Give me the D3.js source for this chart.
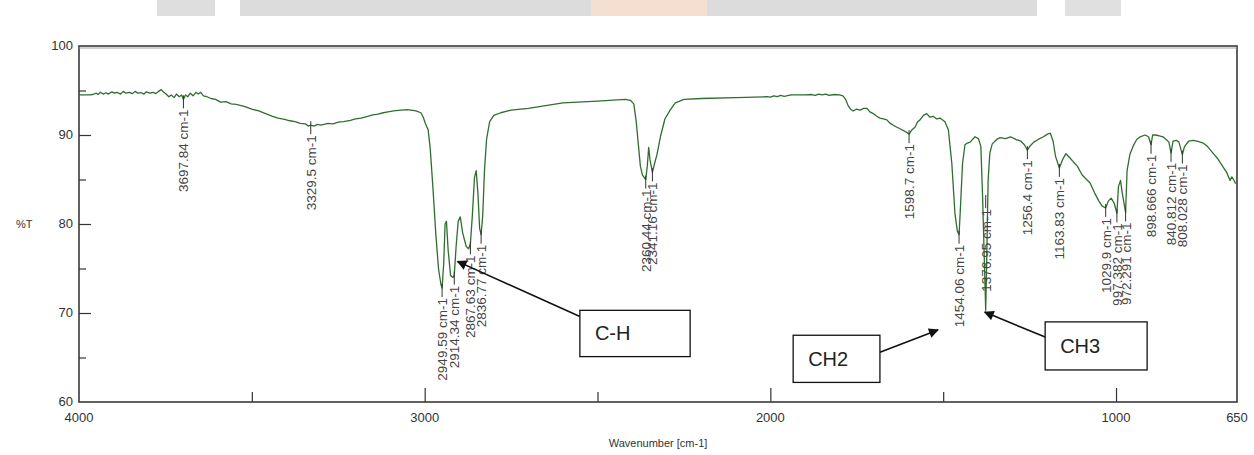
<!DOCTYPE html>
<html>
<head>
<meta charset="utf-8">
<script src="https://cdn.jsdelivr.net/npm/d3@7"></script>
<style>
  body { margin: 0; background: #fff; }
  svg { display: block; }
  text { font-family: "Liberation Sans", Arial, sans-serif; }
</style>
</head>
<body>
<div class="chart"></div>
<script>
"use strict";

// IR spectrum: [wavenumber cm-1, %T]
const spectrum = [
  [4000, 94.5], [3985, 94.5], [3970, 94.5], [3960, 94.55], [3950, 94.7], [3945, 94.55],
  [3938, 94.8], [3930, 94.6], [3922, 94.75], [3915, 94.6], [3905, 94.85], [3898, 94.7],
  [3890, 94.8], [3880, 94.6], [3872, 94.9], [3865, 94.7], [3855, 94.8], [3845, 94.65],
  [3838, 94.9], [3830, 94.7], [3820, 94.75], [3812, 94.6], [3805, 94.85], [3795, 94.7],
  [3785, 94.8], [3778, 94.65], [3770, 94.9], [3762, 95.1], [3755, 94.8], [3748, 94.6],
  [3740, 94.3], [3733, 94.5], [3725, 94.2], [3718, 94.6], [3710, 94.3], [3703, 94.5],
  [3697.84, 94.0], [3692, 94.5], [3685, 94.3], [3678, 94.7], [3670, 94.4], [3662, 94.8],
  [3655, 94.6], [3648, 94.8], [3640, 94.4], [3630, 94.3], [3618, 94.1], [3605, 94.0],
  [3590, 93.7], [3575, 93.75], [3560, 93.5], [3545, 93.45], [3520, 93.2], [3500, 92.9],
  [3480, 92.7], [3460, 92.4], [3440, 92.1], [3424, 91.9], [3405, 91.75], [3390, 91.6],
  [3375, 91.5], [3360, 91.3], [3345, 91.25], [3337, 91.0], [3329.5, 91.1], [3320, 91.0],
  [3310, 91.2], [3300, 91.1], [3280, 91.3], [3265, 91.25], [3250, 91.45], [3235, 91.5],
  [3215, 91.65], [3200, 91.8], [3184, 91.9], [3165, 92.1], [3150, 92.25], [3135, 92.35],
  [3120, 92.5], [3106, 92.6], [3090, 92.7], [3068, 92.8], [3050, 92.85], [3040, 92.8],
  [3025, 92.7], [3011, 92.5], [3004, 92.0], [2998, 91.3], [2990, 90.6], [2984, 88.5],
  [2976, 84], [2968, 79], [2960, 75], [2953, 73.2], [2949.59, 72.8], [2945, 75.5],
  [2941, 80.0], [2937, 80.3], [2932, 77], [2925, 74.2], [2918, 74.0], [2914.34, 74.3],
  [2909, 77.5], [2903, 80.3], [2897, 80.8], [2890, 79], [2880, 77.5], [2873, 77.2],
  [2867.63, 77.8], [2862, 81], [2856, 85.2], [2851, 86.0], [2846, 83.5], [2841, 79.5],
  [2836.77, 78.8], [2832, 81], [2827, 86], [2821, 89.5], [2812, 91.5], [2800, 92.2],
  [2780, 92.5], [2750, 92.8], [2700, 93.0], [2650, 93.3], [2600, 93.6], [2500, 93.8],
  [2420, 94.0], [2405, 93.9], [2395, 93.5], [2388, 91.5], [2382, 89], [2376, 86.5],
  [2370, 85.5], [2360.44, 85.0], [2356, 86.5], [2352, 88.6], [2348, 87.2], [2341.16, 85.8],
  [2335, 86.8], [2328, 87.8], [2318, 89.8], [2305, 91.8], [2290, 92.8], [2275, 93.6],
  [2250, 94.0], [2200, 94.1], [2100, 94.2], [2010, 94.3], [2000, 94.25], [1990, 94.4],
  [1980, 94.3], [1970, 94.45], [1960, 94.35], [1940, 94.5], [1900, 94.5], [1880, 94.55],
  [1870, 94.45], [1860, 94.6], [1850, 94.5], [1840, 94.6], [1830, 94.45], [1815, 94.55],
  [1800, 94.5], [1790, 94.4], [1782, 94.0], [1775, 93.3], [1768, 92.9], [1760, 92.7],
  [1752, 92.9], [1740, 92.8], [1730, 93.0], [1721, 93.0], [1712, 92.6], [1702, 92.4],
  [1692, 92.1], [1683, 91.9], [1673, 91.8], [1663, 91.7], [1653, 91.3], [1644, 91.1],
  [1635, 90.9], [1625, 90.7], [1615, 90.5], [1606, 90.3], [1598.7, 90.1], [1590, 90.6],
  [1581, 90.9], [1574, 91.5], [1567, 91.7], [1557, 92.2], [1548, 92.4], [1538, 92.0],
  [1529, 92.1], [1519, 91.8], [1509, 91.9], [1495, 91.5], [1485, 90.6], [1475, 86.8],
  [1466, 81.2], [1459, 79.2], [1454.06, 78.8], [1450, 81.9], [1444, 86.8], [1437, 88.9],
  [1430, 89.1], [1422, 89.2], [1408, 89.8], [1398, 89.6], [1391, 88.7], [1386, 83.1],
  [1381, 76], [1376.95, 70.3], [1374, 76], [1370, 84.9], [1365, 88.0], [1358, 89.0],
  [1345, 89.5], [1335, 89.7], [1320, 89.6], [1305, 89.8], [1290, 89.5], [1275, 89.3],
  [1265, 88.9], [1256.4, 88.3], [1248, 88.8], [1238, 89.2], [1225, 89.5], [1210, 89.8],
  [1198, 90.1], [1190, 90.2], [1182, 89.3], [1175, 87.6], [1163.83, 86.3], [1155, 87.2],
  [1145, 87.9], [1135, 87.5], [1124, 87.0], [1112, 86.5], [1098, 85.5], [1085, 85.0],
  [1075, 84.6], [1062, 83.5], [1050, 82.6], [1040, 82.0], [1029.9, 81.8], [1022, 82.6],
  [1014, 82.9], [1005, 82.3], [997.382, 81.2], [993, 84.2], [987, 84.9], [982, 83.5],
  [972.291, 81.3], [968, 86.0], [960, 87.8], [950, 88.8], [940, 89.5], [930, 89.8],
  [916, 90.0], [906, 89.8], [898.666, 88.9], [894, 90.0], [885, 90.0], [875, 89.9],
  [864, 89.8], [855, 89.5], [847, 89.2], [840.812, 88.0], [835, 89.3], [825, 89.4],
  [818, 89.2], [808.028, 87.8], [802, 88.7], [790, 89.3], [777, 89.4], [765, 89.3],
  [748, 89.1], [735, 88.7], [720, 88.0], [705, 87.3], [690, 86.4], [680, 85.8],
  [670, 84.9], [665, 85.3], [660, 85.0], [655, 84.6], [650, 84.6]
];

// Picked peaks: wavenumber and the %T where the peak mark sits
const peakWavenumbers = [3697.84, 3329.5, 2949.59, 2914.34, 2867.63, 2836.77, 2360.44, 2341.16,
  1598.7, 1454.06, 1376.95, 1256.4, 1163.83, 1029.9, 997.382, 972.291, 898.666, 840.812, 808.028];
const peakTransmittance = [94.0, 91.1, 72.8, 74.2, 77.6, 78.8, 85.0, 85.8,
  90.1, 78.8, 82.8, 88.3, 86.3, 81.8, 81.2, 81.3, 88.9, 88.0, 87.8];

const xTickValues = [4000, 3000, 2000, 1000, 650];
const xMinorTicks = [3500, 2500, 1500];
const yTickValues = [60, 70, 80, 90, 100];
const yMinorTicks = [65, 75, 85, 95];

// Group labels with arrows, placed in data units (wavenumber, %T)
const groupLabels = [
  { name: "C-H", box: [2551, 2232, 70.3, 65.1], from: [2551, 69.6], to: [2905, 75.8] },
  { name: "CH2", box: [1934, 1683, 67.5, 62.2], from: [1683, 65.6], to: [1515, 68.1] },
  { name: "CH3", box: [1205, 910, 69.0, 63.6], from: [1205, 67.3], to: [1380, 70.1] }
];

const width = 1254;
const height = 455;

const svg = d3.select(".chart")
  .append("svg")
    .attr("width", width)
    .attr("height", height);

// faint banner left at the top of the source picture
const banner = [[157, 58, "#dedede"], [240, 797, "#dcdcdc"], [591, 116, "#f5dfd0"], [1065, 56, "#e0e0e0"]];
svg.selectAll("rect.banner")
  .data(banner)
  .join("rect")
    .attr("class", "banner")
    .attr("x", d => d[0])
    .attr("y", 0)
    .attr("width", d => d[1])
    .attr("height", 16)
    .attr("fill", d => d[2]);

svg.append("defs")
  .append("marker")
    .attr("id", "arrow")
    .attr("viewBox", "0 0 10 10")
    .attr("refX", 9)
    .attr("refY", 5)
    .attr("markerWidth", 12)
    .attr("markerHeight", 10)
    .attr("markerUnits", "userSpaceOnUse")
    .attr("orient", "auto")
  .append("path")
    .attr("d", "M0,0 L10,5 L0,10 Z")
    .attr("fill", "#111");

const xScale = d3.scaleLinear()
  .domain([4000, 650])
  .range([79, 1237]);

const yScale = d3.scaleLinear()
  .domain([60, 100])
  .range([402, 46]);

const plotLeft = xScale.range()[0];
const plotRight = xScale.range()[1];
const plotTop = yScale(100);
const plotBottom = yScale(60);

// Axes: ticks pointing inwards
svg.append("g")
    .attr("class", "axis-x")
    .attr("transform", `translate(0, ${plotBottom})`)
    .call(d3.axisTop(xScale).tickValues([3000, 2000, 1000]).tickSize(14).tickFormat(""))
    .call(g => g.select(".domain").remove());

svg.append("g")
    .attr("class", "axis-x-minor")
    .attr("transform", `translate(0, ${plotBottom})`)
    .call(d3.axisTop(xScale).tickValues(xMinorTicks).tickSize(10).tickFormat(""))
    .call(g => g.select(".domain").remove());

svg.append("g")
    .attr("class", "axis-y")
    .attr("transform", `translate(${plotLeft}, 0)`)
    .call(d3.axisRight(yScale).tickValues([70, 80, 90]).tickSize(12).tickFormat(""))
    .call(g => g.select(".domain").remove());

svg.append("g")
    .attr("class", "axis-y-minor")
    .attr("transform", `translate(${plotLeft}, 0)`)
    .call(d3.axisRight(yScale).tickValues(yMinorTicks).tickSize(7).tickFormat(""))
    .call(g => g.select(".domain").remove());

svg.selectAll(".tick line")
  .attr("stroke", "#333")
  .attr("stroke-width", 1.2);

// Frame
svg.append("rect")
    .attr("x", plotLeft)
    .attr("y", plotTop)
    .attr("width", plotRight - plotLeft)
    .attr("height", plotBottom - plotTop)
    .attr("fill", "none")
    .attr("stroke", "#3a3a3a")
    .attr("stroke-width", 1.6);

svg.append("line")
    .attr("x1", plotLeft).attr("x2", plotRight)
    .attr("y1", plotTop + 2).attr("y2", plotTop + 2)
    .attr("stroke", "#a0a0a0")
    .attr("stroke-width", 1);

// Tick labels
svg.append("g")
  .selectAll("text")
  .data(xTickValues)
  .join("text")
    .attr("x", d => xScale(d))
    .attr("y", plotBottom + 20)
    .attr("text-anchor", "middle")
    .attr("font-size", 13)
    .attr("fill", "#333")
    .text(d => d);

svg.append("g")
  .selectAll("text")
  .data(yTickValues)
  .join("text")
    .attr("x", plotLeft - 6)
    .attr("y", d => yScale(d) + 4)
    .attr("text-anchor", "end")
    .attr("font-size", 13)
    .attr("fill", "#333")
    .text(d => d);

svg.append("text")
    .attr("x", 16)
    .attr("y", yScale(80) + 4)
    .attr("font-size", 11)
    .attr("fill", "#333")
    .text("%T");

svg.append("text")
    .attr("x", (plotLeft + plotRight) / 2)
    .attr("y", 447)
    .attr("text-anchor", "middle")
    .attr("font-size", 11)
    .attr("fill", "#333")
    .text("Wavenumber [cm-1]");

// Spectrum line
const line = d3.line()
  .x(d => xScale(d[0]))
  .y(d => yScale(d[1]));

svg.append("path")
    .attr("d", line(spectrum))
    .attr("fill", "none")
    .attr("stroke", "#2f6e2f")
    .attr("stroke-width", 1.3)
    .attr("stroke-linejoin", "round");

// Peak marks with rotated labels
const peaks = peakWavenumbers.map((wn, i) => ({ wn, t: peakTransmittance[i] }));

const peakMarks = svg.append("g")
  .selectAll("g.peak")
  .data(peaks)
  .join("g")
    .attr("class", "peak")
    .attr("transform", d => `translate(${xScale(d.wn)}, ${yScale(d.t)})`);

peakMarks.append("line")
    .attr("x1", 0).attr("x2", 0)
    .attr("y1", -4).attr("y2", 9)
    .attr("stroke", "#333")
    .attr("stroke-width", 1);

peakMarks.append("text")
    .attr("transform", "translate(5, 10) rotate(-90)")
    .attr("text-anchor", "end")
    .attr("font-size", 13.5)
    .attr("fill", "#444")
    .text(d => `${d.wn} cm-1`);

// Group label boxes and arrows
const groups = svg.append("g")
  .selectAll("g.group-label")
  .data(groupLabels)
  .join("g")
    .attr("class", "group-label");

groups.append("line")
    .attr("x1", d => xScale(d.from[0]))
    .attr("y1", d => yScale(d.from[1]))
    .attr("x2", d => xScale(d.to[0]))
    .attr("y2", d => yScale(d.to[1]))
    .attr("stroke", "#111")
    .attr("stroke-width", 1.6)
    .attr("marker-end", "url(#arrow)");

groups.append("rect")
    .attr("x", d => xScale(d.box[0]))
    .attr("y", d => yScale(d.box[2]))
    .attr("width", d => xScale(d.box[1]) - xScale(d.box[0]))
    .attr("height", d => yScale(d.box[3]) - yScale(d.box[2]))
    .attr("fill", "#fff")
    .attr("stroke", "#111")
    .attr("stroke-width", 1.3);

groups.append("text")
    .attr("x", d => xScale(d.box[0]) + 15)
    .attr("y", d => (yScale(d.box[2]) + yScale(d.box[3])) / 2 + 7)
    .attr("font-size", 20)
    .attr("font-family", "'Open Sans', 'Liberation Sans', sans-serif")
    .attr("fill", "#222")
    .text(d => d.name);
</script>
</body>
</html>
